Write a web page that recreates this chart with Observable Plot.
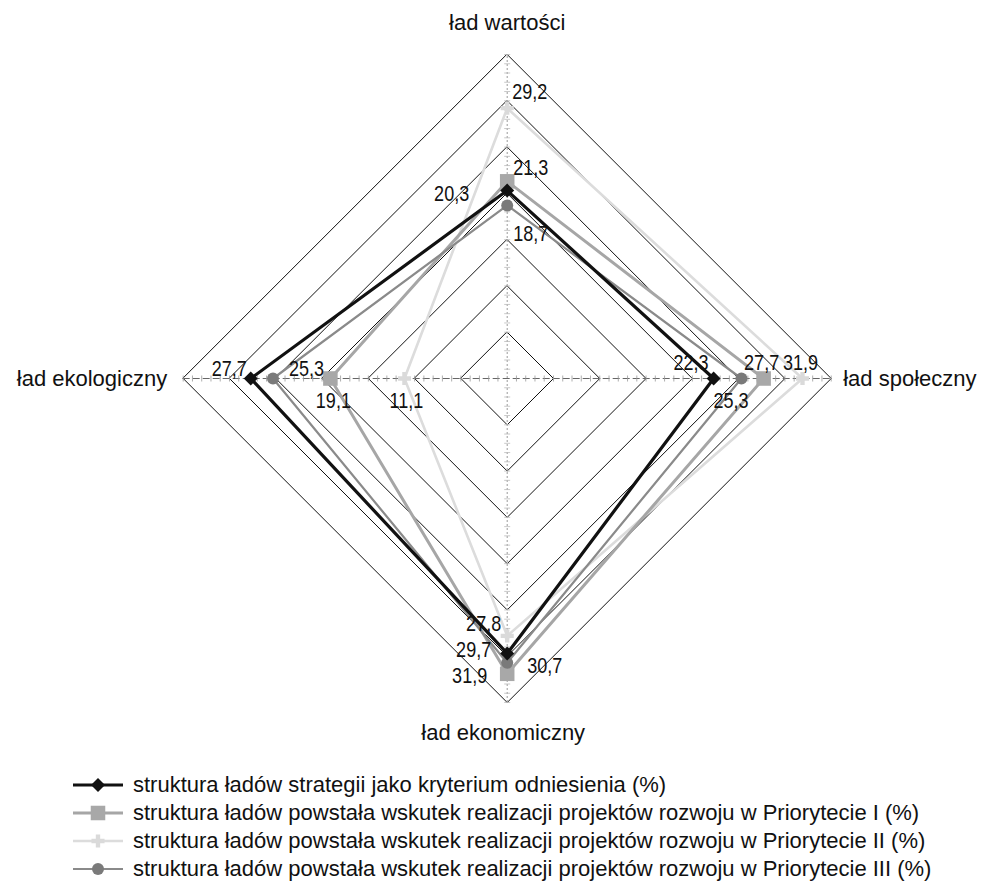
<!DOCTYPE html>
<html>
<head>
<meta charset="utf-8">
<script src="https://cdn.jsdelivr.net/npm/d3@7"></script>
<script src="https://cdn.jsdelivr.net/npm/@observablehq/plot@0.6"></script>
<style>
  html, body { margin: 0; padding: 0; background: #fff; }
  body { width: 983px; height: 889px; overflow: hidden; font-family: "Liberation Sans", Arial, sans-serif; }
  #legend { margin-left: 68px; padding-top: 11px; }
  .row { display: flex; align-items: center; height: 28px; font-size: 22px; color: #111; }
  .row svg { margin-right: 5px; flex: none; }
</style>
</head>
<body>
<div id="chart"></div>
<div id="legend"></div>
<script>
// ---- data ----
const axes = ["ład wartości", "ład społeczny", "ład ekonomiczny", "ład ekologiczny"];
const seriesNames = [
  "struktura ładów strategii jako kryterium odniesienia (%)",
  "struktura ładów powstała wskutek realizacji projektów rozwoju w Priorytecie I (%)",
  "struktura ładów powstała wskutek realizacji projektów rozwoju w Priorytecie II (%)",
  "struktura ładów powstała wskutek realizacji projektów rozwoju w Priorytecie III (%)"
];
const strategia   = [20.3, 22.3, 29.7, 27.7];
const priorytetI  = [21.3, 27.7, 31.9, 19.1];
const priorytetII = [29.2, 31.9, 27.8, 11.1];
const priorytetIII= [18.7, 25.3, 30.7, 25.3];
const gridLevels  = [5, 10, 15, 20, 25, 30, 35];

// ---- layout / style ----
const W = 983, H = 760, CX = 506.7, CY = 378, R = 324, MAXV = 35;
const k = R / MAXV;
const dirs = [[0, 1], [1, 0], [0, -1], [-1, 0]];
const styles = [
  {stroke: "#111", width: 3.2, fill: "#111", symbol: "diamond2", r: 6.3, dash: null},
  {stroke: "#a6a6a6", width: 3, fill: "#a8a8a8", symbol: "square", r: 8.2, dash: null},
  {stroke: "#dcdcdc", width: 2.6, fill: "#dadada", symbol: "cross", r: 5.5, dash: null},
  {stroke: "#8a8a8a", width: 2.2, fill: "#7a7a7a", symbol: "circle", r: 6, dash: null}
];
// label placement per series, per axis: [anchor, dx px, dy px]
const labelPos = [
  [["end", -38, 3], ["end", -5, -16], ["end", -16, -3], ["end", -4, -10]],
  [["start", 6, -13], ["middle", -2, -16], ["end", -20, 2], ["middle", 3, 22]],
  [["start", 5, -16], ["middle", -2, -16], ["end", -6, -12], ["middle", 2, 22]],
  [["start", 6, 29], ["start", -28, 22], ["start", 20, 3], ["start", 16, -10]]
];

const allSeries = [strategia, priorytetI, priorytetII, priorytetIII];
const fmt = v => d3.format(".1f")(v).replace(".", ",");

const points = [];
allSeries.forEach((vals, s) => vals.forEach((v, a) => {
  const [lab, dx, dy] = labelPos[s][a];
  points.push({
    s, a, v,
    x: dirs[a][0] * v, y: dirs[a][1] * v,
    lx: dirs[a][0] * v + dx / k, ly: dirs[a][1] * v - dy / k,
    anchor: lab, label: fmt(v)
  });
}));

const grid = [];
gridLevels.forEach(l => dirs.forEach((d, a) => grid.push({l, x: d[0] * l, y: d[1] * l})));

const minor = d3.range(-MAXV, MAXV + 1).filter(v => v !== 0);
const hTicks = minor.map(v => ({x: v, y: 0}));
const vTicks = minor.map(v => ({x: 0, y: v}));

const hTick = {draw(ctx, size) { ctx.moveTo(0, -3); ctx.lineTo(0, 3); }};
const vTick = {draw(ctx, size) { ctx.moveTo(-3, 0); ctx.lineTo(3, 0); }};

const axisLabels = axes.map((t, a) => ({t, a, x: dirs[a][0] * MAXV, y: dirs[a][1] * MAXV}));

const marks = [
  Plot.line(grid, {x: "x", y: "y", z: "l", curve: "linear-closed", stroke: "#111", strokeWidth: 1}),
  Plot.ruleY([0], {x1: -MAXV, x2: MAXV, stroke: "#666", strokeWidth: 1, strokeDasharray: "7,3"}),
  Plot.ruleX([0], {y1: -MAXV, y2: MAXV, stroke: "#9a9a9a", strokeWidth: 1, strokeDasharray: "2,2"}),
  Plot.dot(hTicks, {x: "x", y: "y", symbol: hTick, stroke: "#999", strokeWidth: 0.8, r: 3}),
  Plot.dot(vTicks, {x: "x", y: "y", symbol: vTick, stroke: "#bbb", strokeWidth: 0.8, r: 3})
];
[2, 1, 3, 0].forEach(s => {
  const st = styles[s];
  const d = points.filter(p => p.s === s);
  marks.push(Plot.line(d, {x: "x", y: "y", curve: "linear-closed", stroke: st.stroke, strokeWidth: st.width}));
  marks.push(Plot.dot(d, {x: "x", y: "y", symbol: st.symbol, fill: st.fill, r: st.r, stroke: "none"}));
});
["start", "middle", "end"].forEach(anchor => {
  marks.push(Plot.text(points.filter(p => p.anchor === anchor), {
    x: "lx", y: "ly", text: "label", textAnchor: anchor, fontSize: 22, fill: "#111",
    fontFamily: "'Liberation Sans Narrow', 'Arial Narrow', 'Liberation Sans', Arial, sans-serif",
    className: "vlabel"
  }));
});
const axOff = [[0, -32, "middle"], [12, 0, "start"], [-4, 30, "middle"], [-16, 0, "end"]];
axisLabels.forEach(d => {
  const [dx, dy, anchor] = axOff[d.a];
  marks.push(Plot.text([d], {x: "x", y: "y", text: "t", dx, dy, textAnchor: anchor, fontSize: 22, fill: "#111"}));
});

const chart = Plot.plot({
  width: W, height: H, margin: 0,
  x: {domain: [-CX / k, (W - CX) / k], axis: null},
  y: {domain: [-(H - CY) / k, CY / k], axis: null},
  style: {fontFamily: "'Liberation Sans', Arial, sans-serif", background: "#fff", overflow: "visible"},
  marks
});
document.getElementById("chart").appendChild(chart);

// squeeze value labels to narrow width if narrow font is not available
(function () {
  const c = document.createElement("canvas").getContext("2d");
  c.font = "22px 'Liberation Sans Narrow', monospace";
  const a = c.measureText("29,2 abc").width;
  c.font = "22px monospace";
  const b = c.measureText("29,2 abc").width;
  if (Math.abs(a - b) < 0.5) {
    d3.select(chart).selectAll("g.vlabel text").each(function () {
      const w = this.getComputedTextLength();
      this.setAttribute("textLength", (w * 0.82).toFixed(1));
      this.setAttribute("lengthAdjust", "spacingAndGlyphs");
    });
  }
})();

// legend
const leg = d3.select("#legend");
seriesNames.forEach((name, s) => {
  const st = styles[s];
  const row = leg.append("div").attr("class", "row");
  const svg = row.append("svg").attr("width", 60).attr("height", 28);
  svg.append("line").attr("x1", 5).attr("x2", 55).attr("y1", 14).attr("y2", 14)
    .attr("stroke", st.stroke).attr("stroke-width", st.width);
  const sym = {diamond2: d3.symbolDiamond2, square: d3.symbolSquare, cross: d3.symbolCross, circle: d3.symbolCircle}[st.symbol];
  svg.append("path").attr("transform", "translate(30,14)")
    .attr("d", d3.symbol(sym, st.r * st.r * Math.PI)()).attr("fill", st.fill);
  row.append("span").text(name);
});
</script>
</body>
</html>
